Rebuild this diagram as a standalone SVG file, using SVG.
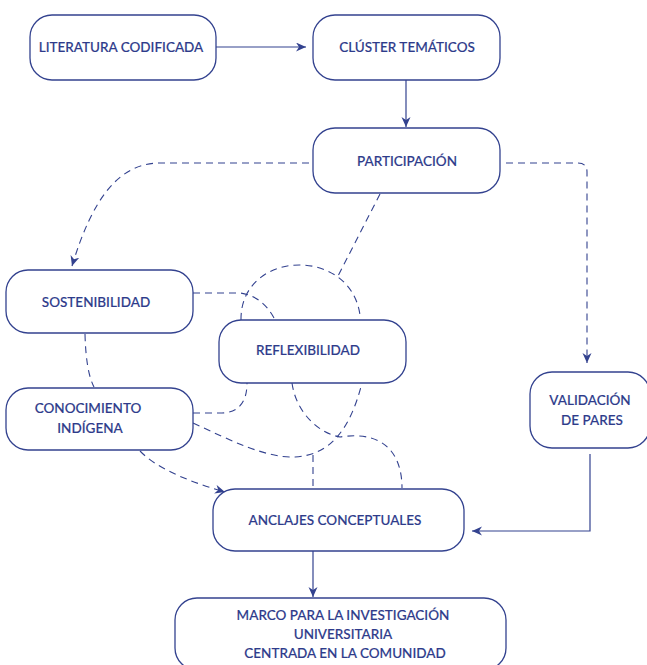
<svg xmlns="http://www.w3.org/2000/svg" width="647" height="665" viewBox="0 0 647 665">
<style>
.box{fill:#fff;stroke:#33428f;stroke-width:1.3}
.t{font-family:Lato,"Liberation Sans",sans-serif;font-size:13.5px;font-weight:500;fill:#2e3b8b;stroke:#2e3b8b;stroke-width:0.15;text-anchor:middle}
.c{fill:none;stroke:#33428f;stroke-width:1.2}
.d{fill:none;stroke:#33428f;stroke-width:1.1;stroke-dasharray:7 5}
</style>
<defs>
<marker id="ah" markerUnits="userSpaceOnUse" markerWidth="12" markerHeight="10" refX="10" refY="4.5" orient="auto">
<path d="M0,0 L10,4.5 L0,9 L3,4.5 z" fill="#33428f"/>
</marker>
</defs>
<rect width="647" height="665" fill="#fff"/>
<g id="connectors">
<path class="c" d="M216,47 L306,47" marker-end="url(#ah)"/>
<path class="c" d="M406,80 L406,127" marker-end="url(#ah)"/>
<path class="d" d="M309,163 L160,163 C118,163 92,200 72,266" marker-end="url(#ah)"/>
<path class="d" d="M506,163 L578,163 Q587,163 587,172 L587,363" marker-end="url(#ah)"/>
<path class="d" d="M380,194 L338,276"/>
<path class="d" d="M241,320 C240,250 350,245 360,315"/>
<path class="d" d="M193,293 L240,293 Q262,296 274,318"/>
<path class="d" d="M85,334 Q86,372 94,387"/>
<path class="d" d="M193,413 L222,413 Q247,412 247,383"/>
<path class="d" d="M193,423 C230,440 265,458 295,457 C330,455 350,430 362,383"/>
<path class="d" d="M292,383 C296,412 318,433 340,437 C385,430 402,455 402,488"/>
<path class="d" d="M313,455 L313,488"/>
<path class="d" d="M140,451 Q162,474 225,492" marker-end="url(#ah)"/>
<path class="c" d="M590,454 L590,531 L472,531" marker-end="url(#ah)"/>
<path class="c" d="M313,551 L313,597" marker-end="url(#ah)"/>
</g>
<g id="literatura">
<rect class="box" x="30" y="15" width="186" height="65" rx="22"/>
<text class="t" x="121" y="52">LITERATURA CODIFICADA</text>
</g>
<g id="cluster">
<rect class="box" x="313" y="15" width="187" height="65" rx="22"/>
<text class="t" x="407" y="52">CLÚSTER TEMÁTICOS</text>
</g>
<g id="participacion">
<rect class="box" x="313" y="128" width="187" height="65" rx="22"/>
<text class="t" x="407" y="166">PARTICIPACIÓN</text>
</g>
<g id="sostenibilidad">
<rect class="box" x="6" y="270" width="187" height="63" rx="22"/>
<text class="t" x="96" y="307">SOSTENIBILIDAD</text>
</g>
<g id="reflexibilidad">
<rect class="box" x="219" y="320" width="187" height="63" rx="22"/>
<text class="t" x="308" y="355">REFLEXIBILIDAD</text>
</g>
<g id="conocimiento">
<rect class="box" x="6" y="388" width="187" height="62" rx="22"/>
<text class="t" x="88" y="413">CONOCIMIENTO</text>
<text class="t" x="90" y="433">INDÍGENA</text>
</g>
<g id="validacion">
<rect class="box" x="530" y="372" width="120" height="76" rx="22"/>
<text class="t" x="590" y="405">VALIDACIÓN</text>
<text class="t" x="592" y="425">DE PARES</text>
</g>
<g id="anclajes">
<rect class="box" x="213" y="489" width="251" height="62" rx="22"/>
<text class="t" x="335" y="525">ANCLAJES CONCEPTUALES</text>
</g>
<g id="marco">
<rect class="box" x="175" y="598" width="331" height="72" rx="22"/>
<text class="t" x="343" y="620">MARCO PARA LA INVESTIGACIÓN</text>
<text class="t" x="343" y="639">UNIVERSITARIA</text>
<text class="t" x="345" y="658">CENTRADA EN LA COMUNIDAD</text>
</g>
</svg>
